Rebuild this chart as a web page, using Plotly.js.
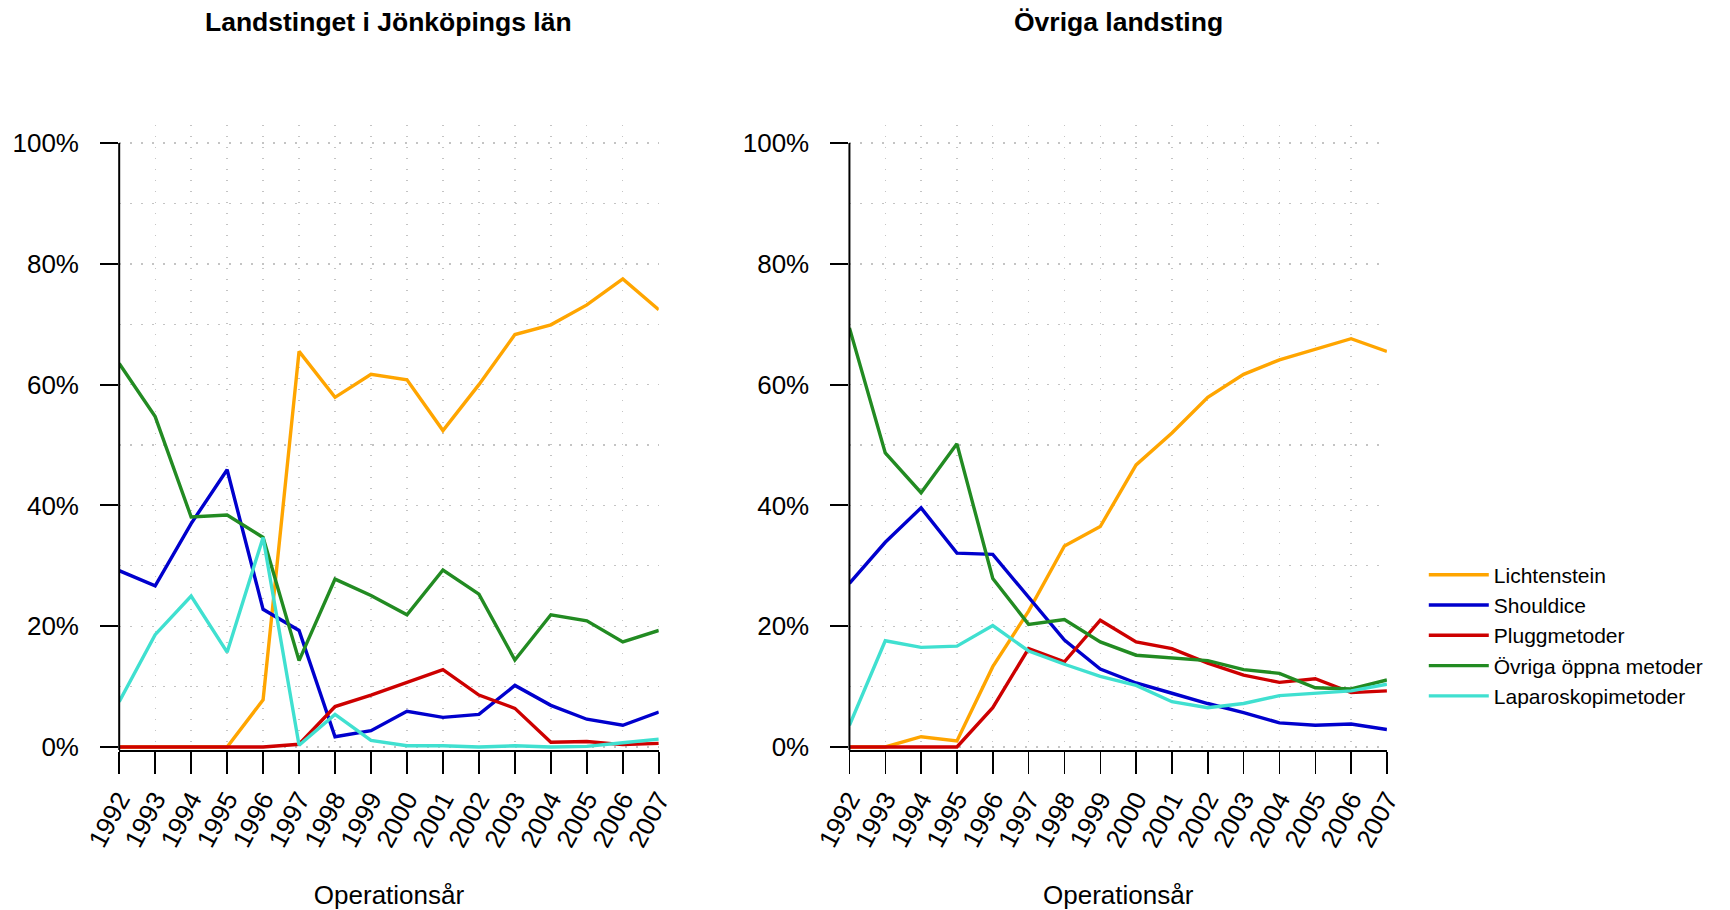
<!DOCTYPE html>
<html>
<head>
<meta charset="utf-8">
<script src="https://cdn.plot.ly/plotly-3.0.1.min.js"></script>
<style>html,body{margin:0;padding:0;background:#fff;}#chart{width:1730px;height:910px;}</style>
</head>
<body>
<div id="chart"></div>
<script>
// ---- data ----
const years = [1992,1993,1994,1995,1996,1997,1998,1999,2000,2001,2002,2003,2004,2005,2006,2007];
const yearLabels = years.map(String);
const seriesNames = ["Lichtenstein","Shouldice","Pluggmetoder","Övriga öppna metoder","Laparoskopimetoder"];
const seriesColors = ["#FFA500","#0000CD","#CD0000","#228B22","#40E0D0"];
const panelTitles = ["Landstinget i Jönköpings län","Övriga landsting"];
const xTitle = "Operationsår";

// Landstinget i Jönköpings län (percent)
const jkpLichtenstein = [0,0,0,0,7.8,65.5,57.9,61.7,60.8,52.4,60.0,68.3,69.9,73.2,77.5,72.4];
const jkpShouldice    = [29.2,26.7,37.0,45.9,22.8,19.3,1.7,2.7,5.9,4.9,5.4,10.2,6.9,4.6,3.6,5.8];
const jkpPlugg        = [0,0,0,0,0,0.45,6.7,8.6,10.7,12.8,8.6,6.4,0.8,0.9,0.4,0.6];
const jkpOvriga       = [63.5,54.7,38.1,38.4,34.7,14.3,27.8,25.1,21.9,29.3,25.3,14.4,21.9,20.9,17.4,19.3];
const jkpLaparo       = [7.5,18.6,25.0,15.7,34.7,0.3,5.4,1.1,0.2,0.2,0,0.2,0,0.1,0.7,1.3];

// Övriga landsting (percent)
const ovrLichtenstein = [0,0,1.7,1.0,13.3,22.5,33.3,36.5,46.7,52.0,57.9,61.7,64.1,65.8,67.6,65.5];
const ovrShouldice    = [27.1,33.9,39.6,32.1,31.9,24.7,17.7,12.9,10.6,8.9,7.2,5.7,4.0,3.6,3.8,2.9];
const ovrPlugg        = [0,0,0,0,6.5,16.3,14.1,21.0,17.4,16.3,13.9,11.9,10.7,11.3,9.0,9.3];
const ovrOvriga       = [69.4,48.7,42.1,50.2,27.9,20.3,21.1,17.4,15.2,14.7,14.3,12.8,12.2,9.8,9.6,11.1];
const ovrLaparo       = [3.6,17.6,16.5,16.7,20.1,15.9,13.7,11.7,10.2,7.5,6.5,7.2,8.5,8.9,9.3,10.4];

const yTickVals = [0,20,40,60,80,100];
const yTickLabels = ["0%","20%","40%","60%","80%","100%"];

// ---- build ----
const jkp = [jkpLichtenstein,jkpShouldice,jkpPlugg,jkpOvriga,jkpLaparo];
const ovr = [ovrLichtenstein,ovrShouldice,ovrPlugg,ovrOvriga,ovrLaparo];
const FONT = "Liberation Sans, Arial, Helvetica, sans-serif";
const LW = 3.4;

const traces = [];
jkp.forEach((vals,i)=>traces.push({
  type:"scatter", mode:"lines", x:years, y:vals, xaxis:"x", yaxis:"y",
  name:seriesNames[i], showlegend:false, legendgroup:seriesNames[i],
  line:{color:seriesColors[i], width:LW}
}));
ovr.forEach((vals,i)=>traces.push({
  type:"scatter", mode:"lines", x:years, y:vals, xaxis:"x2", yaxis:"y2",
  name:seriesNames[i], showlegend:true, legendgroup:seriesNames[i],
  line:{color:seriesColors[i], width:LW}
}));

const gridColor = "#c4c4c4";
const gridDash = "1.5px,9.5px";

function xAxis(domain, anchor){
  return {
    domain:domain, anchor:anchor, range:[1992,2007], automargin:false,
    tickmode:"array", tickvals:years, ticktext:yearLabels, tickangle:-62,
    tickfont:{family:FONT,size:26,color:"#000"},
    ticks:"outside", ticklen:22, tickwidth:1.5, tickcolor:"#000",
    showline:true, linecolor:"#000", linewidth:2,
    showgrid:true, gridcolor:gridColor, gridwidth:1.3, griddash:gridDash,
    zeroline:false,
    title:{text:xTitle, font:{family:FONT,size:26,color:"#000"}, standoff:40}
  };
}
function yAxis(domain, anchor){
  return {
    domain:domain, anchor:anchor, range:[-0.5,103], automargin:false,
    tickmode:"array", tickvals:yTickVals, ticktext:yTickLabels,
    tickfont:{family:FONT,size:26,color:"#000"},
    ticks:"outside", ticklen:18, tickwidth:2, tickcolor:"#000", ticklabelstandoff:16,
    showline:false, zeroline:false,
    showgrid:true, gridcolor:gridColor, gridwidth:1.3, griddash:gridDash,
    minor:{tickmode:"linear", tick0:0, dtick:10, showgrid:true, gridcolor:gridColor, gridwidth:1.3, griddash:gridDash, ticks:""}
  };
}

const yDom = [0.1758, 0.8627];
const layout = {
  width:1730, height:910,
  margin:{l:0,r:0,t:0,b:0},
  paper_bgcolor:"#fff", plot_bgcolor:"#fff",
  font:{family:FONT, color:"#000"},
  xaxis: xAxis([0.0689,0.3808],"y"),
  yaxis: yAxis(yDom,"x"),
  xaxis2: xAxis([0.4910,0.8017],"y2"),
  yaxis2: yAxis(yDom,"x2"),
  showlegend:true,
  legend:{
    x:0.823, xanchor:"left", y:0.3016, yanchor:"middle",
    font:{family:FONT,size:21,color:"#000"},
    bgcolor:"rgba(0,0,0,0)", borderwidth:0, itemwidth:60, tracegroupgap:0
  },
  annotations:[
    {text:"<b>"+panelTitles[0]+"</b>", xref:"x domain", yref:"paper", x:0.5, y:0.976, xanchor:"center", yanchor:"middle", showarrow:false, font:{family:FONT,size:26.5,color:"#000"}},
    {text:"<b>"+panelTitles[1]+"</b>", xref:"x2 domain", yref:"paper", x:0.5, y:0.976, xanchor:"center", yanchor:"middle", showarrow:false, font:{family:FONT,size:26.5,color:"#000"}}
  ],
  shapes:[
    {type:"line", xref:"x domain", yref:"y", x0:0, x1:0, y0:-0.5, y1:100, line:{color:"#000", width:2}},
    {type:"line", xref:"x2 domain", yref:"y2", x0:0, x1:0, y0:-0.5, y1:100, line:{color:"#000", width:2}}
  ]
};

Plotly.newPlot("chart", traces, layout, {displayModeBar:false, staticPlot:true});
</script>
</body>
</html>
